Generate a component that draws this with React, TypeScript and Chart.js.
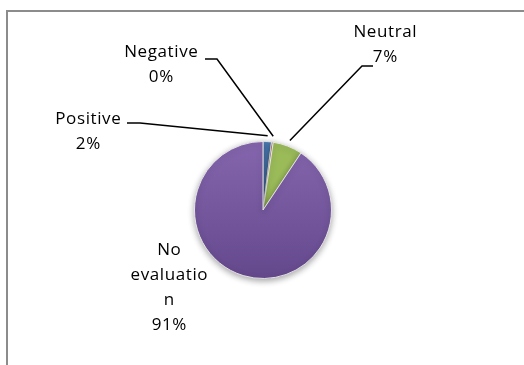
import React, { useEffect, useRef } from 'react';
import { Chart, registerables } from 'chart.js';

Chart.register(...registerables);

// Share of responses per evaluation category
const categories = ['Positive', 'Negative', 'Neutral', 'No evaluation'];
const shares = [2, 0.4, 7, 91];
// Category names as they wrap inside their label boxes
const labelLines = [['Positive'], ['Negative'], ['Neutral'], ['No', 'evaluatio', 'n']];
const sliceColors = ['#4F81BD', '#C0504D', '#9BBB59', '#8064A2'];

const W = 524;
const H = 365;
const FONT = '17px "Open Sans", "Liberation Sans", sans-serif';
const SPACING = 0.6;
const LINE_H = 25;

// Label boxes: text centre, first baseline, and the short horizontal stub of the leader line
const labelLayout = [
  { x: 88, y: 124, stub: [127, 123, 140, 123] as number[] | null },
  { x: 161, y: 57, stub: [205, 59, 217, 59] as number[] | null },
  { x: 385, y: 37, stub: [373, 66, 362, 66] as number[] | null },
  { x: 169, y: 255, stub: null as number[] | null },
];

const percentText = (i: number) => {
  const total = shares.reduce((a, b) => a + b, 0);
  return Math.round((shares[i] / total) * 100) + '%';
};

const framePlugin = {
  id: 'frame',
  beforeDraw(chart: any) {
    const ctx = chart.ctx;
    ctx.save();
    ctx.fillStyle = '#ffffff';
    ctx.fillRect(0, 0, W, H);
    ctx.strokeStyle = '#8c8c8c';
    ctx.lineWidth = 2;
    ctx.beginPath();
    ctx.moveTo(7, H + 5);
    ctx.lineTo(7, 11);
    ctx.lineTo(W + 5, 11);
    ctx.stroke();
    ctx.restore();
  },
};

const shadowPlugin = {
  id: 'pieShadow',
  beforeDatasetsDraw(chart: any) {
    const ctx = chart.ctx;
    ctx.save();
    ctx.shadowColor = 'rgba(0,0,0,0.35)';
    ctx.shadowBlur = 6;
    ctx.shadowOffsetY = 2;
  },
  afterDatasetsDraw(chart: any) {
    chart.ctx.restore();
  },
};

const labelPlugin = {
  id: 'sliceLabels',
  afterDatasetsDraw(chart: any) {
    const ctx = chart.ctx;
    const meta = chart.getDatasetMeta(0);
    ctx.save();
    ctx.font = FONT;
    ctx.fillStyle = '#000000';
    ctx.textAlign = 'center';
    ctx.textBaseline = 'alphabetic';
    (ctx as any).letterSpacing = SPACING + 'px';
    meta.data.forEach((arc: any, i: number) => {
      const lay = labelLayout[i];
      const lines = [...labelLines[i], percentText(i)];
      lines.forEach((t, k) => ctx.fillText(t, lay.x + SPACING / 2, lay.y + k * LINE_H));
      if (lay.stub) {
        const p = arc.getProps(['x', 'y', 'startAngle', 'endAngle', 'outerRadius'], true);
        const mid = (p.startAngle + p.endAngle) / 2;
        const r = p.outerRadius + 6;
        const ax = p.x + Math.cos(mid) * r;
        const ay = p.y + Math.sin(mid) * r;
        ctx.strokeStyle = '#000000';
        ctx.lineWidth = 1.5;
        ctx.beginPath();
        ctx.moveTo(lay.stub[0], lay.stub[1]);
        ctx.lineTo(lay.stub[2], lay.stub[3]);
        ctx.lineTo(ax, ay);
        ctx.stroke();
      }
    });
    ctx.restore();
  },
};

export default function App() {
  const ref = useRef<HTMLCanvasElement | null>(null);

  useEffect(() => {
    if (!ref.current) return;
    const chart = new Chart(ref.current, {
      type: 'pie',
      data: {
        labels: categories,
        datasets: [
          {
            data: shares,
            backgroundColor: (c: any) => {
              const area = c.chart.chartArea;
              const i = c.dataIndex;
              if (!area || i !== 3) return sliceColors[i];
              const g = c.chart.ctx.createLinearGradient(0, area.top, 0, area.bottom);
              g.addColorStop(0, '#8566ae');
              g.addColorStop(1, '#64488c');
              return g;
            },
            borderColor: 'rgba(235,235,235,0.9)',
            borderWidth: 1,
          },
        ],
      },
      options: {
        responsive: false,
        animation: false,
        layout: { padding: { left: 194, right: 192, top: 141, bottom: 86 } },
        plugins: {
          legend: { display: false },
          tooltip: { enabled: false },
        },
      },
      plugins: [framePlugin, shadowPlugin, labelPlugin],
    });
    return () => chart.destroy();
  }, []);

  return (
    <div style={{ position: 'fixed', left: 0, top: 0, width: W, height: H, background: '#fff' }}>
      <canvas ref={ref} width={W} height={H} style={{ display: 'block' }} />
    </div>
  );
}
